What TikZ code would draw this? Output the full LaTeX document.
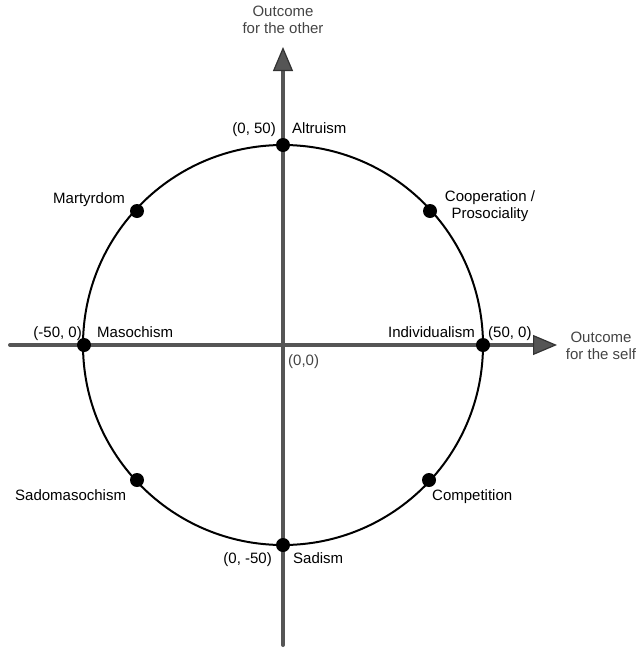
\documentclass[tikz,border=0pt]{standalone}
\usepackage{fontspec}
\setmainfont{Liberation Sans}
\usetikzlibrary{arrows.meta}
\definecolor{axisgray}{HTML}{555555}
\definecolor{tipgray}{HTML}{333333}
\definecolor{txtgray}{HTML}{444444}
\tikzset{
  lbl/.style={font=\fontsize{15}{17}\selectfont, inner sep=0pt, text=black},
  axlbl/.style={font=\fontsize{15}{17}\selectfont, inner sep=0pt, text=txtgray, align=center},
  pt/.style={circle, fill=black, inner sep=0pt, minimum size=14pt},
  axis/.style={line width=4pt, draw=axisgray, line cap=round,
    -{Triangle[length=24pt,width=20pt,line width=1.2pt,fill=axisgray,color=tipgray]}},
}
\begin{document}
\begin{tikzpicture}[x=1pt,y=-1pt]
\useasboundingbox (0,0) rectangle (637,651);
\coordinate (O) at (283,345);
\coordinate (xs) at (10,345);
\coordinate (xe) at (557,345);
\coordinate (ys) at (283,645);
\coordinate (ye) at (283,47);
\draw[line width=2pt, black] (O) circle[radius=200];
\draw[axis] (xs) -- (xe);
\draw[axis] (ys) -- (ye);
\node[pt] (top) at (283,145) {};
\node[pt] (bot) at (283,545) {};
\node[pt] (lft) at (84,345) {};
\node[pt] (rgt) at (483,345) {};
\node[pt] (ne) at (430,211) {};
\node[pt] (nw) at (137,211) {};
\node[pt] (sw) at (137,480) {};
\node[pt] (se) at (429,480) {};
% axis labels
\node[axlbl] (yl) at (283,20) {Outcome\\for the other};
\node[axlbl] (xl) at (601,346) {Outcome\\for the self};
\node[axlbl, anchor=base west] (orig) at (288,365) {(0,0)};
% point labels
\node[lbl, anchor=base west] (altr) at (292,133) {Altruism};
\node[lbl, anchor=base east] (c050) at (276,133) {(0, 50)};
\node[lbl, anchor=base west] (mart) at (53,203) {Martyrdom};
\node[lbl, align=center] (coop) at (490,206) {Cooperation /\\Prosociality};
\node[lbl, anchor=base east] (cm500) at (82,337) {(-50, 0)};
\node[lbl, anchor=base west] (maso) at (97,337) {Masochism};
\node[lbl, anchor=base east] (indi) at (475,337) {Individualism};
\node[lbl, anchor=base west] (c500) at (488,337) {(50, 0)};
\node[lbl, anchor=base west] (sado) at (15,500) {Sadomasochism};
\node[lbl, anchor=base west] (comp) at (432,500) {Competition};
\node[lbl, anchor=base east] (c0m50) at (272,563) {(0, -50)};
\node[lbl, anchor=base west] (sadi) at (293,563) {Sadism};
\end{tikzpicture}
\end{document}
